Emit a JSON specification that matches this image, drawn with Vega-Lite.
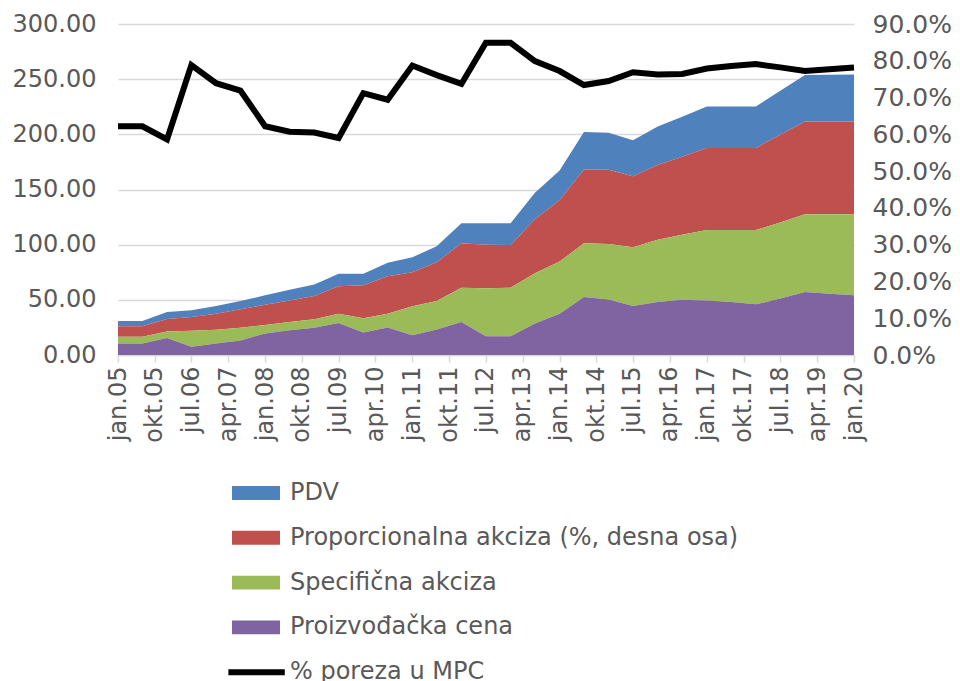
{
  "$schema": "https://vega.github.io/schema/vega-lite/v6.json",
  "width": 736,
  "height": 331,
  "autosize": {"type": "none"},
  "padding": {"left": 118, "top": 24, "right": 106, "bottom": 326},
  "background": "white",
  "config": {
    "font": "DejaVu Sans",
    "view": {"stroke": null},
    "axis": {"labelColor": "#595959", "labelFontSize": 24, "titleColor": "#595959"}
  },
  "data": {
    "values": [
      {"datum": "2005-01-01", "Proizvođačka cena": 10.5, "Specifična akciza": 6.0, "Proporcionalna akciza (%, desna osa)": 9.6, "PDV": 4.8, "udeo": 0.622},
      {"datum": "2005-07-01", "Proizvođačka cena": 10.5, "Specifična akciza": 6.0, "Proporcionalna akciza (%, desna osa)": 9.6, "PDV": 4.8, "udeo": 0.622},
      {"datum": "2006-01-01", "Proizvođačka cena": 15.3, "Specifična akciza": 6.0, "Proporcionalna akciza (%, desna osa)": 11.4, "PDV": 6.3, "udeo": 0.586},
      {"datum": "2006-07-01", "Proizvođačka cena": 7.5, "Specifična akciza": 14.4, "Proporcionalna akciza (%, desna osa)": 12.6, "PDV": 6.0, "udeo": 0.788},
      {"datum": "2007-01-01", "Proizvođačka cena": 10.5, "Specifična akciza": 12.3, "Proporcionalna akciza (%, desna osa)": 14.7, "PDV": 6.9, "udeo": 0.739},
      {"datum": "2007-07-01", "Proizvođačka cena": 13.2, "Specifična akciza": 11.4, "Proporcionalna akciza (%, desna osa)": 16.8, "PDV": 7.5, "udeo": 0.719},
      {"datum": "2008-01-01", "Proizvođačka cena": 19.5, "Specifična akciza": 7.8, "Proporcionalna akciza (%, desna osa)": 18.3, "PDV": 8.5, "udeo": 0.622},
      {"datum": "2008-07-01", "Proizvođačka cena": 22.5, "Specifična akciza": 7.5, "Proporcionalna akciza (%, desna osa)": 19.5, "PDV": 9.7, "udeo": 0.607},
      {"datum": "2009-01-01", "Proizvođačka cena": 24.6, "Specifična akciza": 7.8, "Proporcionalna akciza (%, desna osa)": 21.0, "PDV": 10.6, "udeo": 0.605},
      {"datum": "2009-07-01", "Proizvođačka cena": 29.1, "Specifična akciza": 8.4, "Proporcionalna akciza (%, desna osa)": 24.9, "PDV": 11.2, "udeo": 0.590},
      {"datum": "2010-01-01", "Proizvođačka cena": 20.5, "Specifična akciza": 12.7, "Proporcionalna akciza (%, desna osa)": 30.0, "PDV": 10.4, "udeo": 0.712},
      {"datum": "2010-07-01", "Proizvođačka cena": 24.9, "Specifična akciza": 12.6, "Proporcionalna akciza (%, desna osa)": 33.9, "PDV": 12.1, "udeo": 0.694},
      {"datum": "2011-01-01", "Proizvođačka cena": 18.0, "Specifična akciza": 26.1, "Proporcionalna akciza (%, desna osa)": 31.0, "PDV": 13.5, "udeo": 0.787},
      {"datum": "2011-07-01", "Proizvođačka cena": 23.1, "Specifična akciza": 25.8, "Proporcionalna akciza (%, desna osa)": 35.2, "PDV": 14.4, "udeo": 0.761},
      {"datum": "2012-01-01", "Proizvođačka cena": 30.0, "Specifična akciza": 31.0, "Proporcionalna akciza (%, desna osa)": 40.2, "PDV": 18.3, "udeo": 0.737},
      {"datum": "2012-07-01", "Proizvođačka cena": 17.1, "Specifična akciza": 43.4, "Proporcionalna akciza (%, desna osa)": 39.5, "PDV": 19.5, "udeo": 0.849},
      {"datum": "2013-01-01", "Proizvođačka cena": 17.1, "Specifična akciza": 43.9, "Proporcionalna akciza (%, desna osa)": 38.7, "PDV": 19.8, "udeo": 0.849},
      {"datum": "2013-07-01", "Proizvođačka cena": 28.5, "Specifična akciza": 45.6, "Proporcionalna akciza (%, desna osa)": 49.0, "PDV": 24.0, "udeo": 0.799},
      {"datum": "2014-01-01", "Proizvođačka cena": 37.5, "Specifična akciza": 47.2, "Proporcionalna akciza (%, desna osa)": 55.8, "PDV": 26.8, "udeo": 0.772},
      {"datum": "2014-07-01", "Proizvođačka cena": 52.5, "Specifična akciza": 48.7, "Proporcionalna akciza (%, desna osa)": 67.0, "PDV": 33.9, "udeo": 0.734},
      {"datum": "2015-01-01", "Proizvođačka cena": 50.3, "Specifična akciza": 50.3, "Proporcionalna akciza (%, desna osa)": 67.2, "PDV": 33.7, "udeo": 0.745},
      {"datum": "2015-07-01", "Proizvođačka cena": 44.4, "Specifična akciza": 53.2, "Proporcionalna akciza (%, desna osa)": 64.3, "PDV": 32.7, "udeo": 0.769},
      {"datum": "2016-01-01", "Proizvođačka cena": 48.0, "Specifična akciza": 56.5, "Proporcionalna akciza (%, desna osa)": 67.6, "PDV": 35.1, "udeo": 0.763},
      {"datum": "2016-07-01", "Proizvođačka cena": 50.1, "Specifična akciza": 58.9, "Proporcionalna akciza (%, desna osa)": 70.6, "PDV": 36.3, "udeo": 0.764},
      {"datum": "2017-01-01", "Proizvođačka cena": 49.5, "Specifična akciza": 63.7, "Proporcionalna akciza (%, desna osa)": 74.5, "PDV": 37.5, "udeo": 0.779},
      {"datum": "2017-07-01", "Proizvođačka cena": 48.0, "Specifična akciza": 65.2, "Proporcionalna akciza (%, desna osa)": 74.5, "PDV": 37.5, "udeo": 0.786},
      {"datum": "2018-01-01", "Proizvođačka cena": 45.9, "Specifična akciza": 67.3, "Proporcionalna akciza (%, desna osa)": 74.5, "PDV": 37.5, "udeo": 0.791},
      {"datum": "2018-07-01", "Proizvođačka cena": 51.1, "Specifična akciza": 69.0, "Proporcionalna akciza (%, desna osa)": 79.6, "PDV": 39.9, "udeo": 0.782},
      {"datum": "2019-01-01", "Proizvođačka cena": 57.1, "Specifična akciza": 70.5, "Proporcionalna akciza (%, desna osa)": 84.1, "PDV": 42.1, "udeo": 0.772},
      {"datum": "2019-07-01", "Proizvođačka cena": 55.6, "Specifična akciza": 72.0, "Proporcionalna akciza (%, desna osa)": 84.1, "PDV": 42.4, "udeo": 0.777},
      {"datum": "2020-01-01", "Proizvođačka cena": 54.1, "Specifična akciza": 73.5, "Proporcionalna akciza (%, desna osa)": 84.1, "PDV": 42.6, "udeo": 0.782}
    ]
  },
  "encoding": {
    "x": {
      "field": "datum",
      "type": "temporal",
      "scale": {"type": "utc", "domain": [{"year": 2005, "month": 1, "date": 1, "utc": true}, {"year": 2020, "month": 1, "date": 1, "utc": true}]},
      "axis": {
        "title": null,
        "grid": false,
        "domainColor": "#D9D9D9",
        "domainWidth": 1.5,
        "tickColor": "#D9D9D9",
        "tickWidth": 1.5,
        "tickSize": 7,
        "labelPadding": 4,
        "labelAngle": -90,
        "labelAlign": "right",
        "labelBaseline": "middle",
        "labelOverlap": false,
        "labelExpr": "['jan','feb','mar','apr','maj','jun','jul','avg','sep','okt','nov','dec'][utcmonth(datum.value)] + '.' + utcFormat(datum.value, '%y')",
        "values": [
          {"year": 2005, "month": 1, "date": 1, "utc": true},
          {"year": 2005, "month": 10, "date": 1, "utc": true},
          {"year": 2006, "month": 7, "date": 1, "utc": true},
          {"year": 2007, "month": 4, "date": 1, "utc": true},
          {"year": 2008, "month": 1, "date": 1, "utc": true},
          {"year": 2008, "month": 10, "date": 1, "utc": true},
          {"year": 2009, "month": 7, "date": 1, "utc": true},
          {"year": 2010, "month": 4, "date": 1, "utc": true},
          {"year": 2011, "month": 1, "date": 1, "utc": true},
          {"year": 2011, "month": 10, "date": 1, "utc": true},
          {"year": 2012, "month": 7, "date": 1, "utc": true},
          {"year": 2013, "month": 4, "date": 1, "utc": true},
          {"year": 2014, "month": 1, "date": 1, "utc": true},
          {"year": 2014, "month": 10, "date": 1, "utc": true},
          {"year": 2015, "month": 7, "date": 1, "utc": true},
          {"year": 2016, "month": 4, "date": 1, "utc": true},
          {"year": 2017, "month": 1, "date": 1, "utc": true},
          {"year": 2017, "month": 10, "date": 1, "utc": true},
          {"year": 2018, "month": 7, "date": 1, "utc": true},
          {"year": 2019, "month": 4, "date": 1, "utc": true},
          {"year": 2020, "month": 1, "date": 1, "utc": true}
        ]
      }
    }
  },
  "layer": [
    {
      "transform": [
        {"fold": ["PDV", "Proporcionalna akciza (%, desna osa)", "Specifična akciza", "Proizvođačka cena"], "as": ["serija", "vrednost"]},
        {"calculate": "indexof(['Proizvođačka cena', 'Specifična akciza', 'Proporcionalna akciza (%, desna osa)', 'PDV'], datum.serija)", "as": "redosled"}
      ],
      "mark": {"type": "area", "interpolate": "linear", "opacity": 1},
      "encoding": {
        "y": {
          "field": "vrednost",
          "type": "quantitative",
          "stack": "zero",
          "scale": {"domain": [0, 300], "nice": false},
          "axis": {
            "title": null,
            "orient": "left",
            "values": [0, 50, 100, 150, 200, 250, 300],
            "format": ".2f",
            "domain": false,
            "ticks": false,
            "tickSize": 0,
            "labelPadding": 22,
            "grid": true,
            "gridColor": "#D9D9D9",
            "gridWidth": 1.5
          }
        },
        "order": {"field": "redosled", "type": "quantitative"},
        "color": {
          "field": "serija",
          "type": "nominal",
          "scale": {
            "domain": ["PDV", "Proporcionalna akciza (%, desna osa)", "Specifična akciza", "Proizvođačka cena", "% poreza u MPC"],
            "range": ["#4F81BD", "#C0504D", "#9BBB59", "#8064A2", "#000000"]
          },
          "legend": {
            "title": null,
            "orient": "none",
            "legendX": 114,
            "legendY": 457,
            "direction": "vertical",
            "padding": 0,
            "labelFontSize": 24,
            "labelColor": "#595959",
            "labelLimit": 800,
            "labelOffset": 34,
            "rowPadding": 20.8,
            "symbolSize": 576,
            "symbolType": "M-1,-0.58L3,-0.58L3,0.58L-1,0.58Z",
            "symbolStrokeWidth": 0,
            "symbolOpacity": 1,
            "encode": {
              "symbols": {
                "update": {
                  "shape": [
                    {"test": "datum.value === '% poreza u MPC'", "value": "M-1.3,-0.25L3.4,-0.25L3.4,0.25L-1.3,0.25Z"},
                    {"value": "M-1,-0.58L3,-0.58L3,0.58L-1,0.58Z"}
                  ],
                  "fill": {"scale": "color", "field": "value"},
                  "stroke": {"value": "transparent"},
                  "strokeWidth": {"value": 0},
                  "opacity": {"value": 1}
                }
              }
            }
          }
        }
      }
    },
    {
      "mark": {"type": "line", "strokeWidth": 6, "interpolate": "linear"},
      "encoding": {
        "y": {
          "field": "udeo",
          "type": "quantitative",
          "scale": {"domain": [0, 0.9], "nice": false},
          "axis": {
            "title": null,
            "orient": "right",
            "values": [0, 0.1, 0.2, 0.3, 0.4, 0.5, 0.6, 0.7, 0.8, 0.9],
            "format": ".1%",
            "domain": false,
            "ticks": false,
            "tickSize": 0,
            "labelPadding": 18,
            "labelFontSize": 25,
            "grid": false
          }
        },
        "color": {"datum": "% poreza u MPC", "type": "nominal", "legend": null}
      }
    }
  ],
  "resolve": {"scale": {"y": "independent"}}
}
